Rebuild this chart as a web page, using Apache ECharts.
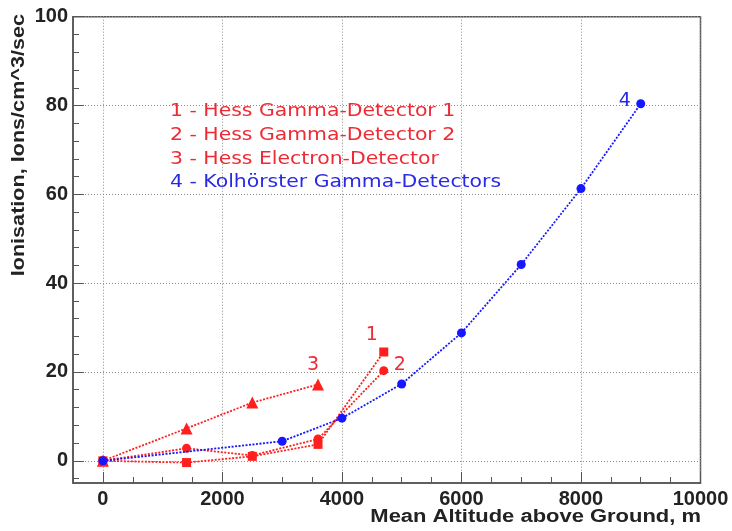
<!DOCTYPE html>
<html>
<head>
<meta charset="utf-8">
<script src="https://cdn.jsdelivr.net/npm/echarts@6/dist/echarts.min.js"></script>
<style>html,body{margin:0;padding:0;background:#fff}#c{width:732px;height:531px}</style>
</head>
<body>
<div id="c"></div>
<script>
// ---- data ----
const altHess1 = [0, 1400, 2500, 3600, 4700];
const ionHess1 = [0, -0.4, 1.0, 3.7, 24.5];
const altHess2 = [0, 1400, 2500, 3600, 4700];
const ionHess2 = [0, 2.8, 1.2, 4.9, 20.3];
const altHess3 = [0, 1400, 2500, 3600];
const ionHess3 = [0, 7.3, 13.1, 17.2];
const altKolh = [0, 3000, 4000, 5000, 6000, 7000, 8000, 9000];
const ionKolh = [0, 4.4, 9.6, 17.3, 28.8, 44.2, 61.3, 80.4];

const seriesTags = ['1', '2', '3', '4'];
const legendLines = [
  '1 - Hess Gamma-Detector 1',
  '2 - Hess Gamma-Detector 2',
  '3 - Hess Electron-Detector',
  '4 - Kolhörster Gamma-Detectors'
];
const xMajorTicks = [0, 2000, 4000, 6000, 8000, 10000];
const xMinorTicks = [-500, 0, 500, 1000, 1500, 2000, 2500, 3000, 3500, 4000, 4500, 5000, 5500, 6000, 6500, 7000, 7500, 8000, 8500, 9000, 9500, 10000];
const yMajorTicks = [0, 20, 40, 60, 80, 100];
const yMinorTicks = [-4, 0, 4, 8, 12, 16, 20, 24, 28, 32, 36, 40, 44, 48, 52, 56, 60, 64, 68, 72, 76, 80, 84, 88, 92, 96, 100];
const xTitle = 'Mean Altitude above Ground, m';
const yTitle = 'Ionisation, Ions/cm^3/sec';

// ---- styling ----
const RED = '#ff1f1f', BLUE = '#1616ff';
const RED_TXT = '#ee2a35', BLUE_TXT = '#2a2ae6';
const FRAME = '#555';
const gridLine = { show: true, lineStyle: { color: '#8a8a8a', width: 1, type: [1, 2] } };
const tickFont = { fontFamily: 'Liberation Sans', fontWeight: 'bold', fontSize: 20, color: '#222', formatter: v => String(v) };

function pairs(xs, ys) { return xs.map((x, i) => [x, ys[i]]); }

function lineSeries(name, xs, ys, color, symbol, size, tag, offset) {
  const last = xs.length - 1;
  return {
    name, type: 'line', xAxisIndex: 0, yAxisIndex: 0,
    data: pairs(xs, ys),
    symbol, symbolSize: size, showAllSymbol: true,
    itemStyle: { color },
    lineStyle: { color, width: 1.8, type: [2, 1.5] },
    label: {
      show: true, position: 'inside', offset,
      formatter: p => (p.dataIndex === last ? tag : ''),
      color: color === BLUE ? BLUE_TXT : RED_TXT,
      fontFamily: 'DejaVu Sans', fontSize: 19
    },
    z: color === BLUE ? 4 : 3,
    animation: false
  };
}

const chart = echarts.init(document.getElementById('c'), null, { renderer: 'canvas' });
chart.setOption({
  backgroundColor: '#fff',
  animation: false,
  grid: { left: 73, right: 31.5, top: 16.7, bottom: 48, show: true, borderColor: FRAME, borderWidth: 1.5, backgroundColor: 'transparent' },
  xAxis: [
    { type: 'value', min: -500, max: 10000, position: 'bottom',
      axisLine: { show: true, onZero: false, lineStyle: { color: FRAME, width: 1.5 } },
      axisTick: { show: true, inside: true, length: 6, customValues: xMinorTicks, lineStyle: { color: FRAME } },
      axisLabel: { show: false }, splitLine: { show: false } },
    { type: 'value', min: -500, max: 10000, position: 'bottom',
      axisLine: { show: false, onZero: false },
      axisTick: { show: true, inside: true, length: 11, customValues: xMajorTicks, lineStyle: { color: FRAME } },
      axisLabel: Object.assign({ show: true, margin: 6, customValues: xMajorTicks }, tickFont),
      splitLine: gridLine }
  ],
  yAxis: [
    { type: 'value', min: -5, max: 100, position: 'left',
      axisLine: { show: true, onZero: false, lineStyle: { color: FRAME, width: 1.5 } },
      axisTick: { show: true, inside: true, length: 6, customValues: yMinorTicks, lineStyle: { color: FRAME } },
      axisLabel: { show: false }, splitLine: { show: false } },
    { type: 'value', min: -5, max: 100, position: 'left',
      axisLine: { show: false, onZero: false },
      axisTick: { show: true, inside: true, length: 11, customValues: yMajorTicks, lineStyle: { color: FRAME } },
      axisLabel: Object.assign({ show: true, margin: 5, customValues: yMajorTicks }, tickFont),
      splitLine: gridLine }
  ],
  series: [
    lineSeries(legendLines[0], altHess1, ionHess1, RED, 'rect', 9, seriesTags[0], [-12, -17]),
    lineSeries(legendLines[1], altHess2, ionHess2, RED, 'circle', 9, seriesTags[1], [16, -6]),
    lineSeries(legendLines[2], altHess3, ionHess3, RED, 'triangle', 12, seriesTags[2], [-5, -19]),
    lineSeries(legendLines[3], altKolh, ionKolh, BLUE, 'circle', 9, seriesTags[3], [-16, -3])
  ],
  graphic: [
    ...legendLines.map((t, i) => ({
      type: 'text', x: 170, y: [112, 136, 159.5, 183][i], scaleX: 1.2,
      style: { text: t, font: '17px "DejaVu Sans"', fill: i === 3 ? BLUE_TXT : RED_TXT, align: 'left', verticalAlign: 'middle' },
      z: 10
    })),
    { type: 'text', x: 701, y: 517, scaleX: 1.22,
      style: { text: xTitle, font: 'bold 18px "Liberation Sans"', fill: '#222', align: 'right', verticalAlign: 'middle' } },
    { type: 'text', x: 19, y: 14, rotation: Math.PI / 2, scaleX: 1.2,
      style: { text: yTitle, font: 'bold 18px "Liberation Sans"', fill: '#222', align: 'right', verticalAlign: 'middle' } }
  ]
});
</script>
</body>
</html>
